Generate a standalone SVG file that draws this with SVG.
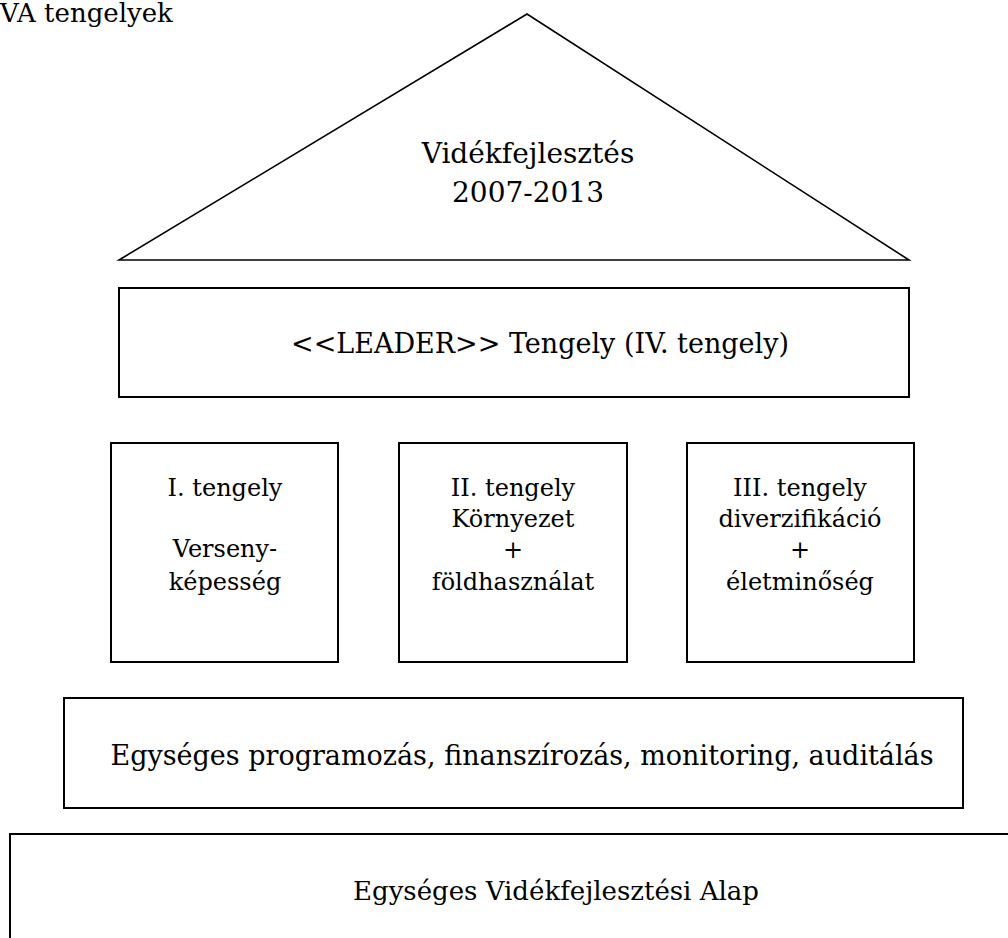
<svg xmlns="http://www.w3.org/2000/svg" width="1008" height="938" viewBox="0 0 1008 938">
<style>
  .shape { fill: #ffffff; stroke: #000000; stroke-width: 2; }
  .tri { fill: #ffffff; stroke: #000000; stroke-width: 1.6; stroke-linejoin: miter; }
  text { font-family: "DejaVu Serif", "Liberation Serif", serif; fill: #000000; }
  .c { text-anchor: middle; }
  .t28 { font-size: 28px; }
  .t27 { font-size: 27px; }
  .t26 { font-size: 26px; }
  .t24 { font-size: 24px; }
</style>
<rect x="0" y="0" width="1008" height="938" fill="#ffffff"/>
<g id="title">
  <text x="0" y="22" class="t26">VA tengelyek</text>
</g>
<g id="roof">
  <polygon class="tri" points="119,260 527,14 909,260"/>
  <text x="528" y="163" class="c t28">Vidékfejlesztés</text>
  <text x="528" y="202" class="c t28">2007-2013</text>
</g>
<g id="leader">
  <rect class="shape" x="119" y="288" width="790" height="109"/>
  <text x="540" y="353" class="c t27">&lt;&lt;LEADER&gt;&gt; Tengely (IV. tengely)</text>
</g>
<g id="axis1">
  <rect class="shape" x="111" y="443" width="227" height="219"/>
  <text x="225" y="496" class="c t24">I. tengely</text>
  <text x="225" y="557" class="c t24">Verseny-</text>
  <text x="225" y="590" class="c t24">képesség</text>
</g>
<g id="axis2">
  <rect class="shape" x="399" y="443" width="228" height="219"/>
  <text x="513" y="496" class="c t24">II. tengely</text>
  <text x="513" y="527" class="c t24">Környezet</text>
  <text x="513" y="558" class="c t24">+</text>
  <text x="513" y="590" class="c t24">földhasználat</text>
</g>
<g id="axis3">
  <rect class="shape" x="687" y="443" width="227" height="219"/>
  <text x="800" y="496" class="c t24">III. tengely</text>
  <text x="800" y="527" class="c t24">diverzifikáció</text>
  <text x="800" y="558" class="c t24">+</text>
  <text x="800" y="590" class="c t24">életminőség</text>
</g>
<g id="programming">
  <rect class="shape" x="64" y="698" width="899" height="110"/>
  <text x="522" y="765" class="c t27">Egységes programozás, finanszírozás, monitoring, auditálás</text>
</g>
<g id="fund">
  <rect class="shape" x="10" y="834" width="1010" height="120"/>
  <text x="556" y="900" class="c t26">Egységes Vidékfejlesztési Alap</text>
</g>
<g id="connectors"></g>
</svg>
